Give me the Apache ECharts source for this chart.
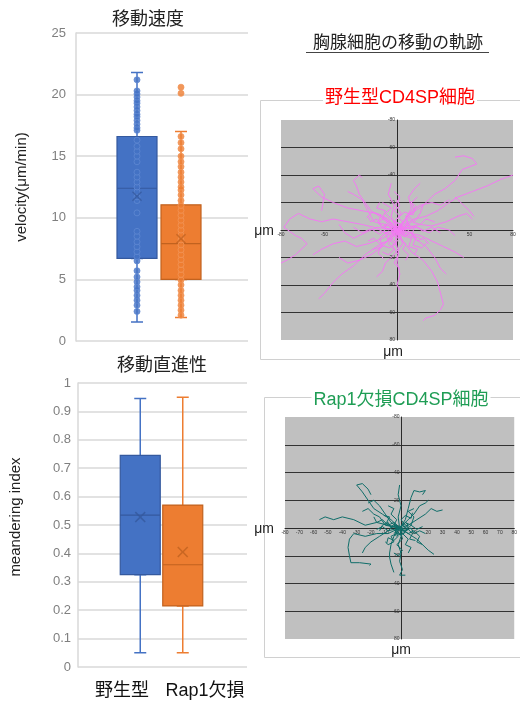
<!DOCTYPE html>
<html>
<head>
<meta charset="utf-8">
<script src="https://cdn.jsdelivr.net/npm/echarts@6/dist/echarts.min.js"></script>
<style>html,body{margin:0;padding:0;background:#fff}#c{width:520px;height:701px}</style>
</head>
<body>
<div id="c"></div>
<script>
// ---------- data ----------
const groups = ['野生型', 'Rap1欠損'];
// velocity (µm/min) individual cells
const velWT = [2.4, 2.9, 3.3, 3.7, 4.1, 4.4, 4.8, 5.2, 5.7, 6.5, 6.85, 7.25, 7.65, 8.05, 8.5, 8.9, 10.4, 11.4, 11.7, 12.1, 12.5, 12.9, 13.3, 13.7, 14.55, 15.0, 15.4, 15.8, 16.3, 17.1, 17.3, 17.6, 17.9, 18.2, 18.4, 18.7, 19.0, 19.3, 19.5, 19.8, 20.05, 20.3, 21.2];
const velKO = [2.1, 2.5, 2.9, 3.3, 3.7, 4.1, 4.55, 4.95, 5.4, 5.8, 6.2, 6.6, 7.0, 7.4, 7.8, 8.2, 8.6, 9.0, 9.4, 9.8, 10.2, 10.6, 11.0, 11.4, 11.85, 12.25, 12.5, 12.9, 13.3, 13.7, 14.15, 14.55, 15.0, 15.6, 16.1, 16.6, 20.1, 20.6];
// box stats [min, Q1, median, Q3, max]
const velBoxWT = [1.55, 6.7, 12.4, 16.6, 21.8];
const velBoxKO = [1.9, 5.0, 7.9, 11.05, 17.0];
const velMean = [11.75, 8.3];
const miBoxWT = [0.05, 0.325, 0.535, 0.745, 0.945];
const miBoxKO = [0.05, 0.215, 0.36, 0.57, 0.95];
const miMean = [0.528, 0.405];
const velAxis = [0, 25, 5];
const miAxis = [0, 1, 0.1];
const trackAxis = [-80, 80];
const wtXLabels = [-80, -50, 0, 50, 80];
const koXLabels = [-80, -70, -60, -50, -40, -30, -20, -10, 0, 10, 20, 30, 40, 50, 60, 70, 80];
// cell trajectories (µm), y grows downward as in the picture
const wtTracks = [
  [[0,0],[5,-4],[12,-8],[20,-10],[28,-14],[36,-20],[42,-24],[52,-28],[62,-32],[72,-37],[80,-40]],
  [[2,-3],[10,-12],[18,-18],[26,-26],[33,-30],[40,-36],[45,-44],[50,-46],[55,-48],[52,-52],[46,-54],[40,-53]],
  [[40,-24],[46,-18],[50,-14],[53,-10]],
  [[0,0],[-5,-6],[-12,-10],[-18,-14],[-22,-20],[-26,-26],[-28,-32],[-30,-36],[-26,-40],[-24,-38]],
  [[0,0],[-8,2],[-16,-2],[-24,-4],[-34,-6],[-44,-8],[-52,-6],[-60,-8],[-68,-12],[-74,-8],[-78,-2],[-70,4],[-66,6],[-62,10],[-70,18],[-76,22],[-80,24]],
  [[0,2],[-6,8],[-14,12],[-22,18],[-30,26],[-38,32],[-44,38],[-50,46],[-54,50]],
  [[0,0],[4,8],[10,16],[18,22],[24,30],[28,38],[30,46],[32,54],[30,58],[26,62],[20,64],[18,66]],
  [[0,0],[-1,8],[1,16],[0,24],[2,32],[0,40],[2,44]],
  [[0,0],[8,2],[16,4],[24,8],[32,12],[40,16],[46,20]],
  [[0,0],[8,-2],[16,-4],[24,-3],[34,-6],[42,-10],[48,-12],[52,-8]],
  [[0,0],[-6,-8],[-14,-12],[-24,-14],[-34,-16],[-44,-20],[-52,-24],[-58,-30],[-54,-32],[-50,-26],[-52,-14]],
  [[0,0],[-10,6],[-20,10],[-28,12],[-36,8],[-44,10],[-52,14],[-58,18]],
  [[0,0],[-8,-4],[-16,-6],[-20,-14],[-24,-22],[-30,-26],[-34,-28]],
  [[0,0],[6,-8],[10,-16],[8,-24],[12,-30],[16,-34]],
  [[0,0],[-4,-10],[-2,-18],[-6,-26],[-4,-34]],
  [[0,0],[12,6],[20,12],[26,20],[30,28],[34,32]],
  [[0,0],[-10,12],[-18,18],[-26,22],[-34,24],[-40,20]],
  [[0,0],[10,-14],[16,-18],[24,-20],[30,-18],[36,-22]],
  [[0,0],[-14,-2],[-22,2],[-30,6],[-36,2],[-40,-4]],
  [[0,0],[4,10],[-2,18],[-8,24],[-10,30],[-14,34]],
  [[0,0],[14,-2],[22,2],[28,-2],[36,0],[40,4]],
  [[0,0],[4,-6],[8,-10],[12,-6],[16,-12],[18,-18]],
  [[0,0],[-4,4],[-8,2],[-12,6],[-10,12],[-16,14]],
  [[0,0],[6,4],[10,2],[14,8],[18,6],[22,10]],
  [[0,0],[-6,-4],[-10,-2],[-14,-8],[-18,-6],[-20,-10]],
  [[0,0],[2,6],[6,10],[4,14],[8,18],[6,22]],
  [[0,0],[-2,-6],[2,-10],[-2,-14],[2,-18],[0,-22]],
  [[0,0],[8,-4],[6,-10],[12,-14],[10,-20],[14,-24]],
  [[0,0],[-8,2],[-6,8],[-12,10],[-16,6],[-20,8]],
  [[0,0],[4,4],[10,6],[8,12],[14,14],[12,18]],
  [[0,0],[-4,-4],[-10,-8],[-8,-14],[-14,-16],[-12,-20]],
  [[0,0],[6,-2],[10,-6],[16,-4],[20,-8],[26,-6]],
  [[0,0],[-2,4],[-6,10],[-2,14],[-6,18],[-10,16]],
  [[0,0],[2,-4],[-4,-8],[-8,-12],[-4,-16],[-10,-20]],
  [[0,0],[4,2],[6,-4],[12,-2],[10,4],[16,6]],
  [[0,0],[-3,2],[-5,-3],[-2,-6],[3,-4],[5,2],[2,6]],
  [[0,0],[3,-2],[2,3],[-2,4],[-4,1],[-1,-3],[2,-1]],
  [[0,0],[5,5],[9,1],[13,5],[11,11],[17,13],[21,9]],
  [[0,0],[-5,-5],[-9,-1],[-13,-5],[-11,-11],[-17,-13],[-21,-9]],
  [[0,0],[5,-5],[1,-9],[5,-13],[11,-11],[13,-17],[9,-21]],
  [[0,0],[-5,5],[-1,9],[-5,13],[-11,11],[-13,17],[-9,21]],
  [[0,0],[7,1],[12,-3],[18,1],[24,-2],[30,2]],
  [[0,0],[-7,-1],[-12,3],[-18,-1],[-24,2],[-30,-2]],
  [[0,0],[1,7],[-3,12],[1,18],[-2,24],[2,28]],
  [[0,0],[-1,-7],[3,-12],[-1,-18],[2,-24],[-2,-28]],
  [[0,0],[3,3],[0,6],[-3,3],[-6,6],[-3,9],[0,12]],
  [[0,0],[3,-3],[6,0],[9,-3],[6,-6],[9,-9]],
  [[0,0],[-3,-3],[-6,0],[-9,-3],[-6,-6],[-9,-9],[-12,-6]],
  [[0,0],[2,2],[4,-1],[1,-3],[-2,-1],[-1,2],[1,1]]
];
const koTracks = [
  [[0,0],[-8,-2],[-16,-4],[-24,-2],[-32,-6],[-40,-8],[-46,-6],[-52,-8],[-56,-6]],
  [[0,0],[-6,-6],[-12,-10],[-18,-14],[-22,-20],[-26,-26],[-30,-31],[-26,-32],[-22,-28],[-20,-24]],
  [[0,0],[-8,4],[-16,4],[-24,6],[-32,4],[-35,8],[-36,14],[-35,20],[-34,25],[-28,25],[-20,26],[-21,27]],
  [[0,0],[4,-6],[6,-14],[8,-22],[10,-27],[14,-26],[18,-27],[16,-24]],
  [[0,0],[6,-2],[12,-6],[18,-10],[22,-14],[26,-12],[30,-13]],
  [[0,0],[6,4],[12,8],[16,12],[20,16],[24,19]],
  [[0,0],[1,6],[-1,12],[1,18],[0,24],[2,30],[0,34],[4,34]],
  [[0,0],[-4,6],[-6,12],[-7,18],[-7,21],[-6,26],[-4,32]],
  [[0,0],[-1,-8],[1,-16],[-1,-24],[0,-31]],
  [[0,0],[-6,-4],[-10,-10],[-14,-16],[-18,-20],[-22,-18]],
  [[0,0],[6,-6],[10,-10],[14,-16],[18,-18],[20,-20]],
  [[0,0],[-8,2],[-14,6],[-20,10],[-24,14],[-26,18]],
  [[0,0],[6,4],[10,2],[14,6],[12,10],[16,12]],
  [[0,0],[-4,-4],[-8,-2],[-12,-6],[-16,-4],[-18,-8]],
  [[0,0],[4,-4],[8,-2],[10,-8],[6,-12],[10,-14]],
  [[0,0],[-2,4],[-6,6],[-4,10],[-8,12],[-10,10]],
  [[0,0],[2,4],[6,8],[4,12],[8,14],[6,18]],
  [[0,0],[-4,-2],[-2,-6],[-6,-10],[-4,-14],[-8,-16]],
  [[0,0],[4,2],[8,0],[10,4],[14,2],[18,4]],
  [[0,0],[-2,-2],[-6,0],[-8,-4],[-12,-2],[-14,2]],
  [[0,0],[3,-3],[6,-1],[4,3],[1,5],[-3,3],[-2,-2]],
  [[0,0],[-3,2],[-1,5],[3,4],[5,1],[2,-3]],
  [[0,0],[2,8],[-2,12],[2,16],[-1,20],[-4,18]],
  [[0,0],[-10,-2],[-14,-8],[-18,-10],[-22,-14],[-26,-12]],
  [[0,0],[3,3],[6,1],[9,4],[7,8],[11,9]],
  [[0,0],[-3,-3],[-6,-1],[-9,-4],[-7,-8],[-11,-9]],
  [[0,0],[3,-3],[1,-6],[4,-9],[8,-7],[9,-11]],
  [[0,0],[-3,3],[-1,6],[-4,9],[-8,7],[-9,11]],
  [[0,0],[5,1],[8,-2],[12,1],[16,-1]],
  [[0,0],[-5,-1],[-8,2],[-12,-1],[-16,1]],
  [[0,0],[2,2],[0,4],[-2,2],[-4,4],[-2,6]],
  [[0,0],[2,-2],[4,0],[6,-2],[4,-4]]
];

// ---------- style ----------
const FONT = "'Liberation Sans', 'Noto Sans CJK JP', sans-serif";
const BLUE = '#4472c4', BLUE_D = '#34599e', ORANGE = '#ed7d31', ORANGE_D = '#c1621f';
const PINK = '#f37af3', TEAL = '#0f6d69';
const XMARK = 'path://M0,1L1,0L5,4L9,0L10,1L6,5L10,9L9,10L5,6L1,10L0,9L4,5Z';

function bgYAxis(gi, ext, margin) {
  return {
    type: 'value', gridIndex: gi, min: ext[0], max: ext[1], interval: ext[2],
    axisLine: { show: true, lineStyle: { color: '#d9d9d9', width: 1.5 } },
    axisTick: { show: false },
    axisLabel: { color: '#7f7f7f', fontSize: 13, fontFamily: FONT, margin: margin },
    splitLine: { lineStyle: { color: '#d9d9d9', width: 1.5 } }
  };
}
function hidY(gi, ext) {
  return { type: 'value', gridIndex: gi, min: ext[0], max: ext[1], show: false, splitLine: { show: false } };
}
function hidCat(gi) {
  return { type: 'category', gridIndex: gi, data: groups, show: false };
}
function trackX(gi, labels, off) {
  return {
    type: 'value', gridIndex: gi, min: trackAxis[0], max: trackAxis[1], interval: 10,
    offset: off,
    axisLine: { onZero: false, lineStyle: { color: '#2a2a2a', width: 1 } },
    axisTick: { show: false },
    splitLine: { show: false },
    axisLabel: { fontSize: 5, color: '#333', margin: 2, fontFamily: FONT,
      formatter: v => labels.indexOf(v) >= 0 ? String(v) : '' }
  };
}
function trackY(gi, off) {
  return {
    type: 'value', gridIndex: gi, min: trackAxis[0], max: trackAxis[1], interval: 20, inverse: true,
    offset: off,
    axisLine: { onZero: false, lineStyle: { color: '#2a2a2a', width: 1 } },
    axisTick: { show: false },
    axisLabel: { fontSize: 5, color: '#333', margin: 2, fontFamily: FONT },
    splitLine: { lineStyle: { color: ['transparent', '#333', '#333', '#333', '#333', '#333', '#333', '#333', 'transparent'], width: 1.2 } }
  };
}
function whiskerItem(b, c) {
  return { value: [b[0], b[1], b[1], b[1], b[4]], itemStyle: { color: c, borderColor: c } };
}
function bodyItem(b, fill, line) {
  return { value: [b[1], b[1], b[2], b[3], b[3]], itemStyle: { color: fill, borderColor: line } };
}

const series = [
  // velocity
  { type: 'boxplot', xAxisIndex: 2, yAxisIndex: 1, boxWidth: [12, 12], z: 2, silent: true,
    itemStyle: { borderWidth: 1.5 },
    data: [whiskerItem(velBoxWT, BLUE), whiskerItem(velBoxKO, ORANGE)] },
  { type: 'boxplot', xAxisIndex: 1, yAxisIndex: 1, boxWidth: [40, 40], z: 3, silent: true,
    itemStyle: { borderWidth: 1.2 },
    data: [bodyItem(velBoxWT, BLUE, BLUE_D), bodyItem(velBoxKO, ORANGE, ORANGE_D)] },
  { type: 'scatter', xAxisIndex: 1, yAxisIndex: 1, z: 4, symbolSize: 6, silent: true,
    itemStyle: { color: BLUE, borderColor: '#5f88d2', borderWidth: 1 },
    data: velWT.map(v => [0, v]) },
  { type: 'scatter', xAxisIndex: 1, yAxisIndex: 1, z: 4, symbolSize: 6, silent: true,
    itemStyle: { color: ORANGE, borderColor: '#f29558', borderWidth: 1 },
    data: velKO.map(v => [1, v]) },
  { type: 'scatter', xAxisIndex: 1, yAxisIndex: 1, z: 5, symbol: XMARK, symbolSize: 10, silent: true,
    data: [{ value: [0, velMean[0]], itemStyle: { color: BLUE_D } }, { value: [1, velMean[1]], itemStyle: { color: ORANGE_D } }] },
  // meandering index
  { type: 'boxplot', xAxisIndex: 5, yAxisIndex: 3, boxWidth: [12, 12], z: 2, silent: true,
    itemStyle: { borderWidth: 1.5 },
    data: [whiskerItem(miBoxWT, BLUE), whiskerItem(miBoxKO, ORANGE)] },
  { type: 'boxplot', xAxisIndex: 4, yAxisIndex: 3, boxWidth: [40, 40], z: 3, silent: true,
    itemStyle: { borderWidth: 1.2 },
    data: [bodyItem(miBoxWT, BLUE, BLUE_D), bodyItem(miBoxKO, ORANGE, ORANGE_D)] },
  { type: 'scatter', xAxisIndex: 4, yAxisIndex: 3, z: 5, symbol: XMARK, symbolSize: 11, silent: true,
    data: [{ value: [0, miMean[0]], itemStyle: { color: BLUE_D } }, { value: [1, miMean[1]], itemStyle: { color: ORANGE_D } }] },
  // trajectories
  { type: 'lines', coordinateSystem: 'cartesian2d', xAxisIndex: 6, yAxisIndex: 4, polyline: true, silent: true, z: 3,
    lineStyle: { color: PINK, width: 1, opacity: 1 },
    data: wtTracks.map(t => ({ coords: t })) },
  { type: 'lines', coordinateSystem: 'cartesian2d', xAxisIndex: 7, yAxisIndex: 5, polyline: true, silent: true, z: 3,
    lineStyle: { color: TEAL, width: 1, opacity: 1 },
    data: koTracks.map(t => ({ coords: t })) }
];

function txt(text, x, y, size, color, extra) {
  return Object.assign({ type: 'text', x: x, y: y, z: 100, silent: true,
    style: Object.assign({ text: text, fill: color, font: size + 'px ' + FONT,
      align: 'center', verticalAlign: 'middle', textAlign: 'center', textVerticalAlign: 'middle' }, (extra && extra.style) || {}) },
    extra && extra.rotation ? { rotation: extra.rotation } : {});
}

const option = {
  animation: false,
  backgroundColor: '#fff',
  grid: [
    { left: 76, top: 33, width: 172, height: 308 },
    { left: 115, top: 33, width: 88, height: 308 },
    { left: 78, top: 383, width: 169, height: 284 },
    { left: 119, top: 383, width: 85, height: 284 },
    { left: 281, top: 120, width: 232, height: 220, show: true, backgroundColor: '#c0c0c0', borderWidth: 0 },
    { left: 285, top: 417, width: 233, height: 222, show: true, backgroundColor: '#c0c0c0', borderWidth: 0 }
  ],
  xAxis: [
    { type: 'value', gridIndex: 0, show: false, splitLine: { show: false } },
    hidCat(1), hidCat(1),
    { type: 'value', gridIndex: 2, show: false, splitLine: { show: false } },
    hidCat(3), hidCat(3),
    trackX(4, wtXLabels, -110), trackX(5, koXLabels, -111)
  ],
  yAxis: [
    bgYAxis(0, velAxis, 10), hidY(1, velAxis),
    bgYAxis(2, miAxis, 7), hidY(3, miAxis),
    trackY(4, -116), trackY(5, -116.5)
  ],
  series: series,
  graphic: [
    { type: 'rect', shape: { x: 260.5, y: 100.5, width: 270, height: 259 }, z: 0, silent: true,
      style: { fill: 'none', stroke: '#d0d0d0', lineWidth: 1 } },
    { type: 'rect', shape: { x: 264.5, y: 397.5, width: 270, height: 260 }, z: 0, silent: true,
      style: { fill: 'none', stroke: '#d0d0d0', lineWidth: 1 } },
    txt('移動速度', 148, 20, 18, '#222'),
    txt('移動直進性', 162, 366, 18, '#222'),
    txt('velocity(μm/min)', 22, 187, 15, '#222', { rotation: Math.PI / 2 }),
    txt('meandering index', 16, 517, 15, '#222', { rotation: Math.PI / 2 }),
    txt(groups[0], 122, 691, 18, '#111'),
    txt(groups[1], 205, 691, 18, '#111'),
    txt('胸腺細胞の移動の軌跡', 398, 43, 17, '#222'),
    { type: 'line', shape: { x1: 306, y1: 52.5, x2: 489, y2: 52.5 }, z: 100, silent: true,
      style: { stroke: '#444', lineWidth: 1.2 } },
    txt('野生型CD4SP細胞', 400, 98, 18, '#ff0000', { style: { backgroundColor: '#fff', padding: [0, 2] } }),
    txt('Rap1欠損CD4SP細胞', 401, 400, 18, '#1f9d55', { style: { backgroundColor: '#fff', padding: [0, 2] } }),
    txt('μm', 264, 231, 14, '#222'),
    txt('μm', 264, 529, 14, '#222'),
    txt('μm', 393, 352, 14, '#222'),
    txt('μm', 401, 650, 14, '#222')
  ]
};
const chart = echarts.init(document.getElementById('c'), null, { renderer: 'canvas' });
chart.setOption(option);
</script>
</body>
</html>
